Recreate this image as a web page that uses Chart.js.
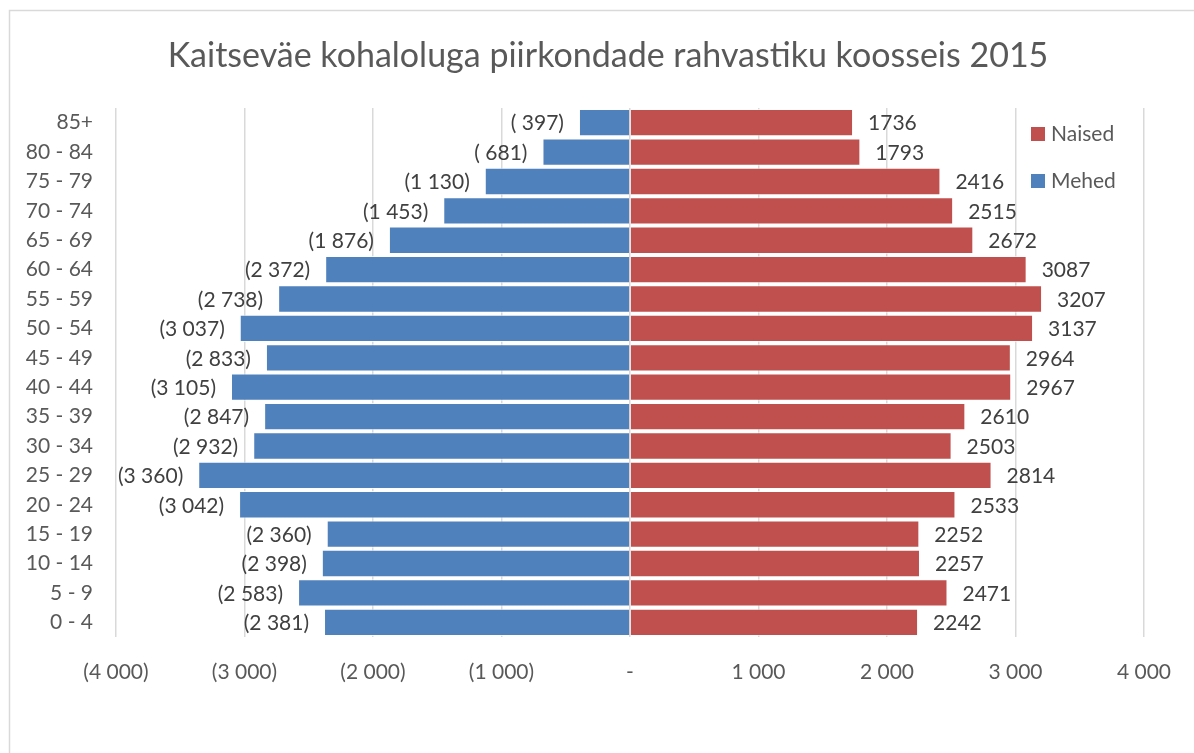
<!DOCTYPE html>
<html>
<head>
<meta charset="utf-8">
<title>Kaitseväe kohaloluga piirkondade rahvastiku koosseis 2015</title>
<script src="https://cdn.jsdelivr.net/npm/chart.js@4.4.1/dist/chart.umd.min.js"></script>
<style>
  html, body { margin: 0; padding: 0; background: #ffffff; }
  #wrap { position: relative; width: 1194px; height: 753px; }
</style>
</head>
<body>
<div id="wrap"><canvas id="pyramid" width="1194" height="753"></canvas></div>
<script>
// Age groups, youngest first (axis is reversed so 85+ sits on top)
const ageGroups = ['0 - 4', '5 - 9', '10 - 14', '15 - 19', '20 - 24', '25 - 29', '30 - 34',
  '35 - 39', '40 - 44', '45 - 49', '50 - 54', '55 - 59', '60 - 64', '65 - 69',
  '70 - 74', '75 - 79', '80 - 84', '85+'];

// Population counts per age group
const men   = [2381, 2583, 2398, 2360, 3042, 3360, 2932, 2847, 3105, 2833, 3037, 2738, 2372, 1876, 1453, 1130, 681, 397];
const women = [2242, 2471, 2257, 2252, 2533, 2814, 2503, 2610, 2967, 2964, 3137, 3207, 3087, 2672, 2515, 2416, 1793, 1736];

// Value axis ticks
const axisTicks = [-4000, -3000, -2000, -1000, 0, 1000, 2000, 3000, 4000];

const chartTitle = 'Kaitseväe kohaloluga piirkondade rahvastiku koosseis 2015';
const FONT = 'Lato, "Open Sans", sans-serif';

// "1 130" style grouping; values under 1000 keep the leading blank: " 397"
function grouped(n) {
  const a = Math.abs(n);
  const th = Math.floor(a / 1000);
  const rest = String(a % 1000).padStart(th ? 3 : 1, '0');
  return (th ? th : '') + ' ' + rest;
}
function axisLabel(v) {
  if (v === 0) return '-';
  return v < 0 ? '(' + grouped(v) + ')' : grouped(v);
}

const framePlugin = {
  id: 'frame',
  beforeDraw(chart) {
    const ctx = chart.ctx;
    ctx.save();
    ctx.fillStyle = '#ffffff';
    ctx.fillRect(0, 0, chart.width, chart.height);
    ctx.strokeStyle = '#d9d9d9';
    ctx.lineWidth = 1.5;
    ctx.strokeRect(9.5, 10.5, 1400, 1000);
    // title
    ctx.fillStyle = '#595959';
    ctx.font = '34px ' + FONT;
    ctx.textAlign = 'center';
    ctx.textBaseline = 'alphabetic';
    ctx.fillText(chartTitle, 608, 67);
    ctx.restore();
  }
};

const valueLabelPlugin = {
  id: 'valueLabels',
  afterDatasetsDraw(chart) {
    const ctx = chart.ctx;
    ctx.save();
    ctx.font = '21px ' + FONT;
    ctx.fillStyle = '#404040';
    ctx.textBaseline = 'middle';
    chart.data.datasets.forEach((ds, di) => {
      const meta = chart.getDatasetMeta(di);
      meta.data.forEach((bar, i) => {
        const v = ds.data[i];
        if (v < 0) {
          ctx.textAlign = 'right';
          ctx.fillText('(' + grouped(v) + ')', bar.x - 15, bar.y + 1);
        } else {
          ctx.textAlign = 'left';
          ctx.fillText(String(v), bar.x + 15, bar.y + 1);
        }
      });
    });
    ctx.restore();
  }
};

const legendPlugin = {
  id: 'sideLegend',
  afterDraw(chart) {
    const ctx = chart.ctx;
    ctx.save();
    ctx.font = '21px ' + FONT;
    ctx.textAlign = 'left';
    ctx.textBaseline = 'middle';
    const items = chart.data.datasets.slice().reverse();
    items.forEach((ds, k) => {
      const cy = 134 + k * 47;
      ctx.fillStyle = ds.backgroundColor;
      ctx.fillRect(1031, cy - 7, 14, 14);
      ctx.fillStyle = '#595959';
      ctx.fillText(ds.label, 1051, cy);
    });
    ctx.restore();
  }
};

new Chart(document.getElementById('pyramid'), {
  type: 'bar',
  data: {
    labels: ageGroups,
    datasets: [
      {
        label: 'Mehed',
        data: men.map(v => -v),
        backgroundColor: '#4F81BD',
        borderColor: 'rgba(255,255,255,0.75)',
        borderWidth: 1,
        barPercentage: 0.93,
        categoryPercentage: 1
      },
      {
        label: 'Naised',
        data: women,
        backgroundColor: '#C0504D',
        borderColor: 'rgba(255,255,255,0.6)',
        borderWidth: 1,
        barPercentage: 0.93,
        categoryPercentage: 1
      }
    ]
  },
  options: {
    indexAxis: 'y',
    responsive: false,
    animation: false,
    layout: { padding: { left: 10, right: 50, top: 108, bottom: 0 } },
    plugins: {
      legend: { display: false },
      title: { display: false },
      tooltip: { enabled: false }
    },
    scales: {
      x: {
        stacked: true,
        min: -4000,
        max: 4000,
        afterBuildTicks(scale) { scale.ticks = axisTicks.map(v => ({ value: v })); },
        afterFit(scale) { scale.height = 116; },
        grid: { color: '#d9d9d9', lineWidth: 1.5, drawTicks: false },
        border: { display: false },
        ticks: {
          padding: 23,
          maxRotation: 0,
          autoSkip: false,
          color: '#595959',
          font: { family: FONT, size: 21 },
          callback: (v) => axisLabel(v)
        }
      },
      y: {
        stacked: true,
        reverse: true,
        afterFit(scale) { scale.width = 106; },
        grid: { display: false, drawTicks: false },
        border: { display: false },
        ticks: {
          padding: 23,
          autoSkip: false,
          color: '#595959',
          font: { family: FONT, size: 21 }
        }
      }
    }
  },
  plugins: [framePlugin, valueLabelPlugin, legendPlugin]
});
</script>
</body>
</html>
